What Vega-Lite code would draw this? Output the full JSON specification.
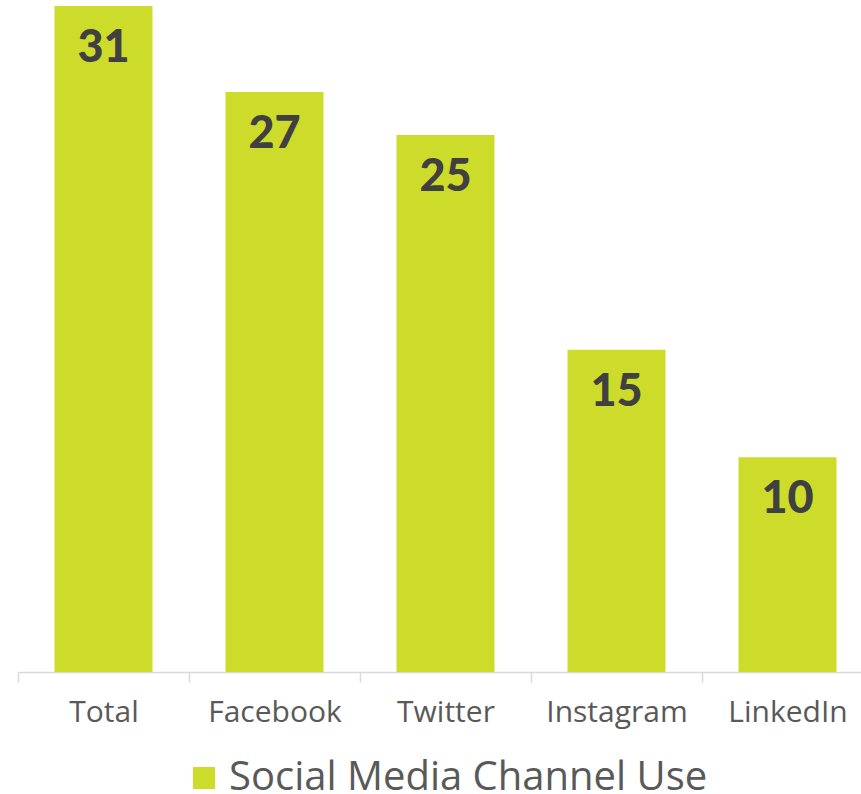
{
  "$schema": "https://vega.github.io/schema/vega-lite/v6.json",
  "autosize": "none",
  "width": 855,
  "height": 666,
  "padding": {"left": 18, "top": 6, "right": 0, "bottom": 122},
  "background": "white",
  "config": {"view": {"stroke": null}, "font": "Open Sans"},
  "data": {
    "values": [
      {"channel": "Total", "value": 31, "series": "Social Media Channel Use"},
      {"channel": "Facebook", "value": 27, "series": "Social Media Channel Use"},
      {"channel": "Twitter", "value": 25, "series": "Social Media Channel Use"},
      {"channel": "Instagram", "value": 15, "series": "Social Media Channel Use"},
      {"channel": "LinkedIn", "value": 10, "series": "Social Media Channel Use"}
    ]
  },
  "encoding": {
    "x": {
      "field": "channel",
      "type": "nominal",
      "sort": null,
      "scale": {"paddingInner": 0, "paddingOuter": 0},
      "axis": {
        "title": null,
        "labelAngle": 0,
        "labelFont": "Open Sans",
        "labelFontSize": 30,
        "labelColor": "#595959",
        "labelPadding": 15,
        "domainColor": "#d9d9d9",
        "domainWidth": 1.5,
        "tickColor": "#d9d9d9",
        "tickWidth": 1.5,
        "tickSize": 10,
        "tickBand": "extent"
      }
    },
    "y": {
      "field": "value",
      "type": "quantitative",
      "scale": {"domain": [0, 31], "nice": false, "zero": true},
      "axis": null
    }
  },
  "layer": [
    {
      "mark": {"type": "bar", "width": {"band": 0.573}},
      "encoding": {
        "color": {
          "field": "series",
          "type": "nominal",
          "scale": {"range": ["#cddc2a"]},
          "legend": {
            "title": null,
            "orient": "none",
            "legendX": 166,
            "legendY": 752,
            "padding": 0,
            "symbolType": "square",
            "symbolSize": 484,
            "symbolStrokeWidth": 0,
            "symbolOpacity": 1,
            "labelFont": "Open Sans",
            "labelFontSize": 40,
            "labelColor": "#595959",
            "labelOffset": 5,
            "labelLimit": 0
          }
        }
      }
    },
    {
      "mark": {
        "type": "text",
        "baseline": "alphabetic",
        "align": "center",
        "dy": 56,
        "font": "Lato",
        "fontWeight": 900,
        "fontSize": 45,
        "color": "#404040"
      },
      "encoding": {"text": {"field": "value", "type": "quantitative"}}
    }
  ]
}
